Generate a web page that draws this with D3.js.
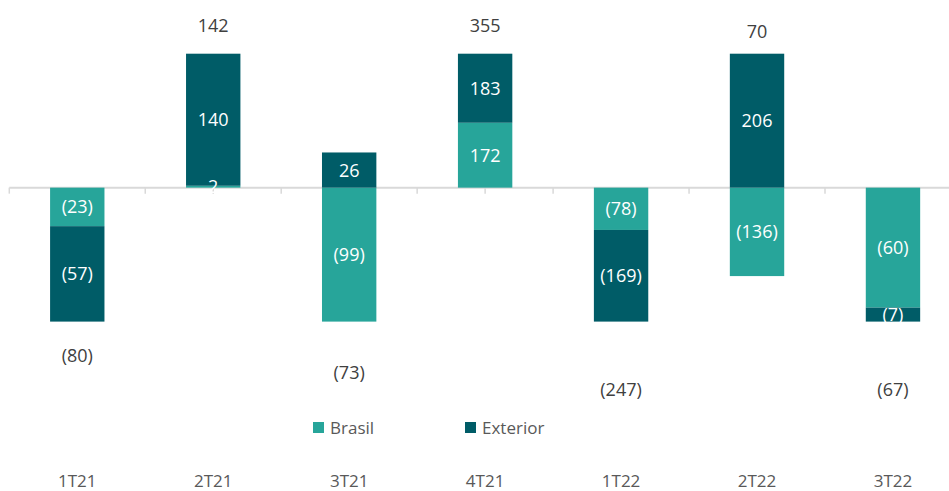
<!DOCTYPE html>
<html>
  <head>
    <meta charset="utf-8">
    <title>Brasil x Exterior</title>
    <script src="https://d3js.org/d3.v7.min.js"></script>
    <style>
      body { margin: 0; background: #fff; }
      text { font-family: "Open Sans", sans-serif; }
    </style>
  </head>
  <body>
    <div id="vis"></div>
    <script>
      const width = 949;
      const height = 491;

      // dados
      const categories = ["1T21", "2T21", "3T21", "4T21", "1T22", "2T22", "3T22"];
      const brasil = [-23, 2, -99, 172, -78, -136, -60];
      const exterior = [-57, 140, 26, 183, -169, 206, -7];
      const seriesNames = ["Brasil", "Exterior"];
      const seriesColors = ["#27a59a", "#005c67"];

      // posicao (baseline) dos rotulos de total - ajuste manual como no original
      const totalLabelY = [362, 32, 379, 32, 396, 38, 396];

      const vis = d3.select("#vis").append("svg")
        .attr("width", width).attr("height", height);

      const x0 = 9.3, step = 135.95;
      const x = d3.scaleBand()
        .domain(categories)
        .range([x0, x0 + categories.length * step])
        .paddingInner(0.6)
        .paddingOuter(0.3);

      const y = d3.scaleLinear().domain([-1, 1]).range([321.6, 53.7]);

      const fmt = v => v < 0 ? "(" + d3.format("d")(-v) + ")" : d3.format("d")(v);

      // empilhamento normalizado pelo maior lado de cada barra
      const segs = [];
      const totals = [];
      categories.forEach(function(c, i) {
        const vals = [brasil[i], exterior[i]];
        const pos = d3.sum(vals.filter(v => v > 0));
        const neg = -d3.sum(vals.filter(v => v < 0));
        const m = Math.max(pos, neg);
        let up = 0, down = 0;
        vals.forEach(function(v, s) {
          let a, b;
          if (v >= 0) { a = up; b = up + v / m; up = b; }
          else { a = down; b = down + v / m; down = b; }
          segs.push({cat: c, s: s, v: v, y0: a, y1: b});
        });
        totals.push({cat: c, i: i, v: d3.sum(vals)});
      });

      // eixo zero
      vis.append("line")
        .attr("x1", x0).attr("x2", width)
        .attr("y1", y(0)).attr("y2", y(0))
        .attr("stroke", "#d9d9d9").attr("stroke-width", 2);

      const tickX = [];
      categories.forEach(function(c) {
        const cx = x(c) + x.bandwidth() / 2;
        tickX.push(cx - step / 2, cx);
      });
      tickX.push(x0 + categories.length * step);

      vis.append("g").selectAll("line")
        .data(tickX)
        .join("line")
        .attr("x1", d => d).attr("x2", d => d)
        .attr("y1", y(0)).attr("y2", y(0) + 6)
        .attr("stroke", "#d9d9d9").attr("stroke-width", 1.5);

      vis.append("g").selectAll("rect")
        .data(segs)
        .join("rect")
        .attr("x", d => x(d.cat))
        .attr("width", x.bandwidth())
        .attr("y", d => y(Math.max(d.y0, d.y1)))
        .attr("height", d => Math.abs(y(d.y0) - y(d.y1)))
        .attr("fill", d => seriesColors[d.s]);

      vis.append("g").selectAll("text")
        .data(segs)
        .join("text")
        .attr("x", d => x(d.cat) + x.bandwidth() / 2)
        .attr("y", d => y((d.y0 + d.y1) / 2))
        .attr("dy", "0.36em")
        .attr("text-anchor", "middle")
        .attr("font-size", 18)
        .attr("fill", "#fff")
        .text(d => fmt(d.v));

      vis.append("g").selectAll("text")
        .data(totals)
        .join("text")
        .attr("x", d => x(d.cat) + x.bandwidth() / 2)
        .attr("y", d => totalLabelY[d.i])
        .attr("text-anchor", "middle")
        .attr("font-size", 18)
        .attr("fill", "#404040")
        .text(d => fmt(d.v));

      // rotulos das categorias
      vis.append("g").selectAll("text")
        .data(categories)
        .join("text")
        .attr("x", d => x(d) + x.bandwidth() / 2)
        .attr("y", 487)
        .attr("text-anchor", "middle")
        .attr("font-size", 17)
        .attr("fill", "#595959")
        .text(d => d);

      // legenda
      const legendX = [313, 465];
      const legend = vis.append("g").selectAll("g")
        .data(seriesNames)
        .join("g")
        .attr("transform", (d, i) => "translate(" + legendX[i] + ",422)");
      legend.append("rect")
        .attr("width", 11).attr("height", 11)
        .attr("fill", (d, i) => seriesColors[i]);
      legend.append("text")
        .attr("x", 17).attr("y", 12)
        .attr("font-size", 17)
        .attr("fill", "#595959")
        .text(d => d);
    </script>
  </body>
</html>
